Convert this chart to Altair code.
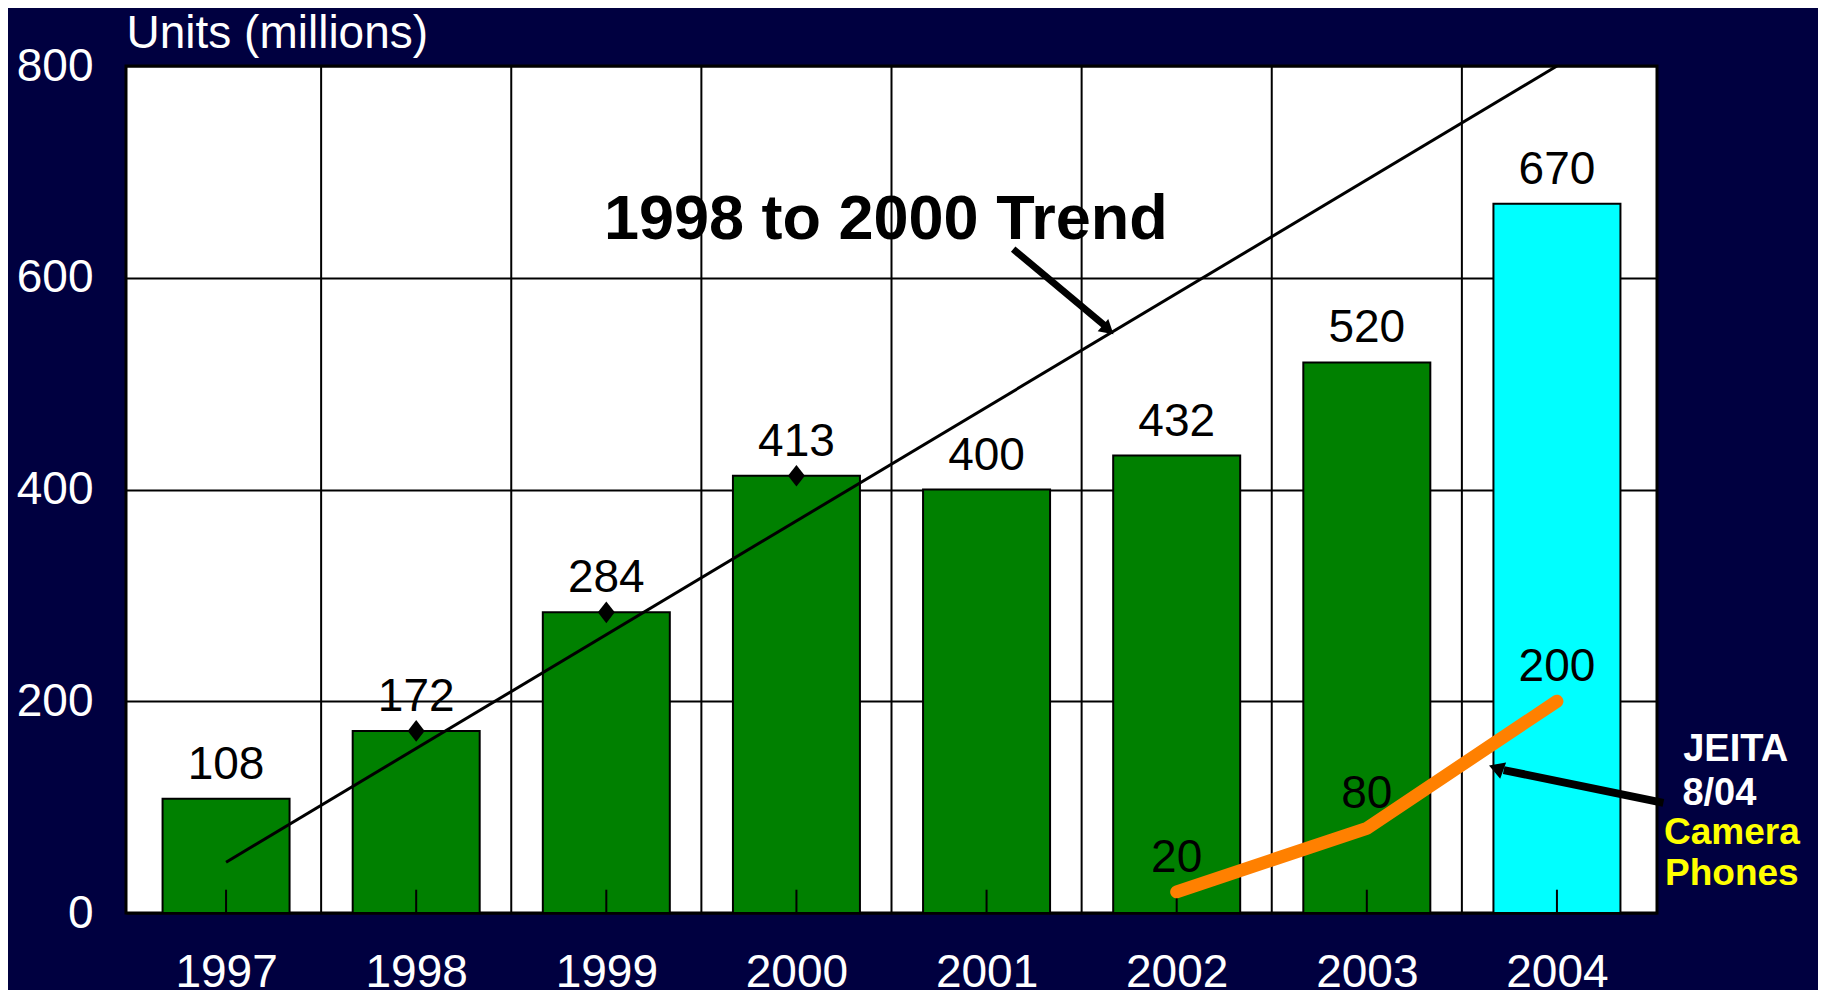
import altair as alt
import pandas as pd

# ---- data ----
years = [1997, 1998, 1999, 2000, 2001, 2002, 2003, 2004]
units = [108, 172, 284, 413, 400, 432, 520, 670]

trend_years = [1997, 2004]
trend_values = [48, 800]

camera_years = [2002, 2003, 2004]
camera_values = [20, 80, 200]

diamond_years = [1998, 1999, 2000]

FONT = "Liberation Sans"
BG = "#000040"

bars_df = pd.DataFrame({"year": years, "units": units})
trend_df = pd.DataFrame({"year": trend_years, "units": trend_values})
cam_df = pd.DataFrame({"year": camera_years, "units": camera_values})

xscale = alt.Scale(domain=[1996.5, 2004.5], nice=False, zero=False)
yscale = alt.Scale(domain=[0, 800], nice=False)

xaxis = alt.Axis(
    values=years, format="d", grid=False, ticks=False, domain=False,
    labelColor="white", labelFontSize=46, labelFont=FONT, labelPadding=37,
    title=None)
yaxis = alt.Axis(
    values=[0, 200, 400, 600, 800], grid=True, gridColor="black", gridWidth=2,
    gridOpacity=1, ticks=False, domain=False,
    labelColor="white", labelFontSize=46, labelFont=FONT, labelPadding=33,
    title="Units (millions)", titleAngle=0, titleAlign="left", titleX=0,
    titleY=-33, titleBaseline="middle", titleColor="white", titleFontSize=46,
    titleFont=FONT, titleFontWeight="normal")

XQ = alt.X("year:Q", scale=xscale, axis=xaxis)
YQ = alt.Y("units:Q", scale=yscale, axis=yaxis)

base = alt.Chart(bars_df)

bars = base.mark_bar(size=127, stroke="black", strokeWidth=2).encode(
    x=XQ, y=YQ,
    color=alt.condition(alt.datum.year == 2004, alt.value("#00FFFF"), alt.value("#008000")))

# vertical grid lines at band boundaries
vgrid = base.transform_filter(alt.datum.year < 2004).transform_calculate(
    b="datum.year + 0.5").mark_rule(color="black", strokeWidth=2).encode(
    x=alt.X("b:Q", scale=xscale, axis=xaxis))

inner_ticks = base.mark_rule(color="black", strokeWidth=2).encode(
    x=XQ, y=alt.datum(0), y2=alt.datum(22))

bar_labels = base.mark_text(dy=-34, fontSize=46, font=FONT, color="black",
                            baseline="middle").encode(
    x=XQ, y=YQ, text=alt.Text("units:Q"))

trend = alt.Chart(trend_df).mark_line(color="black", strokeWidth=3).encode(
    x=XQ, y=YQ)

diamonds = base.transform_filter(
    alt.FieldOneOfPredicate(field="year", oneOf=diamond_years)).mark_point(
    shape="M0,-1L0.78,0L0,1L-0.78,0Z", size=470, filled=True, color="black",
    opacity=1).encode(x=XQ, y=YQ)

cam_line = alt.Chart(cam_df).mark_line(color="#FF8000", strokeWidth=13,
                                       strokeCap="round", strokeJoin="bevel").encode(
    x=XQ, y=YQ)

cam_labels = alt.Chart(cam_df).mark_text(dy=-34, fontSize=46, font=FONT,
                                         color="black", baseline="middle").encode(
    x=XQ, y=YQ, text=alt.Text("units:Q"))

# annotations
ann = alt.Chart(pd.DataFrame({"a": [0]}))

trend_text = ann.mark_text(text="1998 to 2000 Trend", fontSize=63, fontWeight="bold",
                           font=FONT, color="black", baseline="middle", clip=False).encode(
    x=alt.datum(2000.47), y=alt.datum(655))

trend_arrow = ann.mark_rule(color="black", strokeWidth=7, clip=False).encode(
    x=alt.datum(2001.14), y=alt.datum(627), x2=alt.datum(2001.62), y2=alt.datum(555))
trend_head = ann.mark_point(shape="triangle-up", size=260, filled=True, color="black",
                            opacity=1, angle=131, clip=False).encode(
    x=alt.datum(2001.64), y=alt.datum(551))

jeita_arrow = ann.mark_rule(color="black", strokeWidth=8, clip=False).encode(
    x=alt.datum(2004.56), y=alt.datum(104), x2=alt.datum(2003.72), y2=alt.datum(135))
jeita_head = ann.mark_point(shape="triangle-up", size=300, filled=True, color="black",
                            opacity=1, angle=290, clip=False).encode(
    x=alt.datum(2003.68), y=alt.datum(137))

jeita1 = ann.mark_text(text="JEITA", fontSize=38, fontWeight="bold", font=FONT,
                       color="white", baseline="middle", clip=False).encode(
    x=alt.datum(2004.94), y=alt.datum(154))
jeita2 = ann.mark_text(text="8/04", fontSize=38, fontWeight="bold", font=FONT,
                       color="white", baseline="middle", align="left", clip=False).encode(
    x=alt.datum(2004.66), y=alt.datum(112))
cam1 = ann.mark_text(text="Camera", fontSize=37, fontWeight="bold", font=FONT,
                     color="#FFFF00", baseline="middle", clip=False).encode(
    x=alt.datum(2004.92), y=alt.datum(76))
cam2 = ann.mark_text(text="Phones", fontSize=37, fontWeight="bold", font=FONT,
                     color="#FFFF00", baseline="middle", clip=False).encode(
    x=alt.datum(2004.92), y=alt.datum(37))

chart = alt.layer(
    bars, vgrid, inner_ticks, trend, diamonds, bar_labels, cam_line, cam_labels,
    trend_text, trend_arrow, trend_head, jeita_arrow, jeita_head,
    jeita1, jeita2, cam1, cam2,
).properties(
    width=1531, height=847,
    background=BG,
    padding={"left": 8, "top": 2, "right": 18, "bottom": 5},
).configure_view(
    stroke="black", strokeWidth=3, fill="white"
)

chart.save("out.html", embed_options={"renderer": "svg", "actions": False})
